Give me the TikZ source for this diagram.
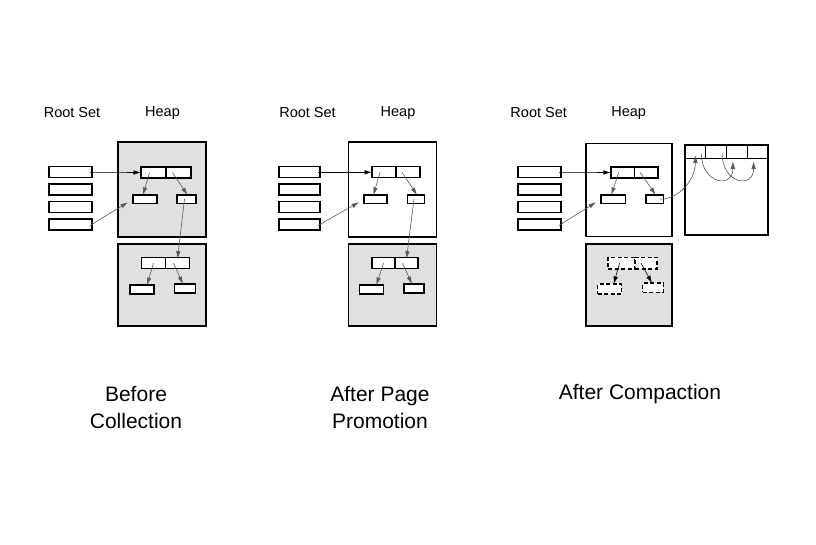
\documentclass[tikz,border=0pt]{standalone}
\usepackage{fontspec}
\setmainfont{Liberation Sans}
\usetikzlibrary{arrows.meta}

\definecolor{pagegray}{gray}{0.88}
\colorlet{ptrgray}{black!65}

\begin{document}
\begin{tikzpicture}[>={Latex[length=7.5pt,width=4.5pt]},x=1pt,y=-1pt,
  lbl/.style={font=\fontsize{14.5}{17}\selectfont},
  captxt/.style={font=\fontsize{21}{27}\selectfont,align=center},
  obj/.style={draw,fill=white,line width=1.2pt,inner sep=0pt,outer sep=0pt,minimum height=11},
  kid/.style={obj,minimum height=8.5},
  gone/.style={draw,fill=white,line width=1.4pt,dash pattern=on 4pt off 2.5pt,inner sep=0pt,outer sep=0pt},
  page/.style={draw,line width=1.2pt,inner sep=0pt,outer sep=0pt,minimum width=88,minimum height=95},
  ptr/.style={->,semithick,ptrgray}]
  \useasboundingbox (0,0) rectangle (816,544);
  % Before collection
  \begin{scope}
    \node[lbl] (rs) at (72,113) {Root Set};
    \node[lbl] (hp) at (162.5,113) {Heap};
    \foreach \i/\y in {1/172.3,2/189.5,3/207,4/224.5}
      \node[obj,minimum width=43] (r\i) at (70.5,\y) {};
    \node[page,fill=pagegray] (ha) at (162,189.5) {};
    \node[page,fill=pagegray,minimum height=82] (hb) at (162,285) {};
    \node[obj,minimum width=25] (pl) at (153.5,172.5) {};
    \node[obj,minimum width=25] (pr) at (178.5,172.5) {};
    \node[kid,minimum width=24] (cl) at (145,199.2) {};
    \node[kid,minimum width=19] (cr) at (186.5,199.2) {};
    \node[obj,minimum width=24] (ql) at (153.5,263.2) {};
    \node[obj,minimum width=24] (qr) at (177.5,263.2) {};
    \node[kid,minimum width=24,minimum height=9] (dl) at (142,289.5) {};
    \node[kid,minimum width=21,minimum height=9] (dr) at (185,288.5) {};
    \draw[->,semithick] ([xshift=-2]r1.east) -- (pl.west);
    \draw[ptr] ([shift={(-2,1)}]r4.east) -- ([shift={(-5,3)}]cl.west);
    \draw[ptr] ([xshift=-4]pl.center) -- ([xshift=-2]cl.north);
    \draw[ptr] ([xshift=-6]pr.center) -- ([xshift=1]cr.north);
    \draw[ptr] ([xshift=-2]cr.center) -- ([yshift=-1]qr.north);
    \draw[ptr] (ql.center) -- ([xshift=5]dl.north);
    \draw[ptr] ([xshift=-4]qr.center) -- ([xshift=-2]dr.north);
    \node[captxt] (t1) at (136,407.5) {Before\\Collection};
  \end{scope}
  % After page promotion
  \begin{scope}[xshift=230]
    \node[lbl] (rs) at (77.5,113) {Root Set};
    \node[lbl] (hp) at (168,113) {Heap};
    \foreach \i/\y in {1/172.3,2/189.5,3/207,4/224.5}
      \node[obj,minimum width=41] (r\i) at (69.5,\y) {};
    \node[page,fill=white] (ha) at (162.5,189.5) {};
    \node[page,fill=pagegray,minimum height=82] (hb) at (162.5,285) {};
    \node[obj,minimum width=24] (pl) at (154,172.3) {};
    \node[obj,minimum width=24] (pr) at (178,172.3) {};
    \node[kid,minimum width=23] (cl) at (145.5,199.2) {};
    \node[kid,minimum width=17] (cr) at (186,199.2) {};
    \node[obj,minimum width=23] (ql) at (153.5,263.3) {};
    \node[obj,minimum width=23] (qr) at (176.5,263.3) {};
    \node[kid,minimum width=24,minimum height=9] (dl) at (141.3,289.5) {};
    \node[kid,minimum width=20,minimum height=9] (dr) at (184,288.5) {};
    \draw[->,semithick] ([xshift=-2]r1.east) -- (pl.west);
    \draw[ptr] ([shift={(-2,1)}]r4.east) -- ([shift={(-5,3)}]cl.west);
    \draw[ptr] ([xshift=-4]pl.center) -- ([xshift=-2]cl.north);
    \draw[ptr] ([xshift=-6]pr.center) -- ([xshift=1]cr.north);
    \draw[ptr] ([xshift=-2]cr.center) -- ([yshift=-1]qr.north);
    \draw[ptr] (ql.center) -- ([xshift=5]dl.north);
    \draw[ptr] ([xshift=-4]qr.center) -- ([xshift=-2]dr.north);
    \node[captxt] (t2) at (150,407.5) {After Page\\Promotion};
  \end{scope}
  % After compaction
  \begin{scope}[xshift=469]
    \node[lbl] (rs) at (69.7,113) {Root Set};
    \node[lbl] (hp) at (159.7,113) {Heap};
    \foreach \i/\y in {1/172.3,2/189.5,3/207,4/224.5}
      \node[obj,minimum width=43] (r\i) at (70.5,\y) {};
    \node[page,fill=white,minimum width=86,minimum height=93] (ha) at (160,190) {};
    \node[page,fill=pagegray,minimum width=86,minimum height=82] (hb) at (160,285) {};
    \node[obj,minimum width=23.5] (pl) at (153.7,172.5) {};
    \node[obj,minimum width=23.5] (pr) at (177.2,172.5) {};
    \node[kid,minimum width=24.5] (cl) at (144.3,199.2) {};
    \node[kid,minimum width=17.5] (cr) at (185.7,199.2) {};
    \node[gone,minimum width=27,minimum height=11.5] (ql) at (152.5,263.2) {};
    \node[gone,minimum width=22,minimum height=11.5] (qr) at (177,263.2) {};
    \node[gone,minimum width=24,minimum height=10] (dl) at (140.7,289) {};
    \node[gone,minimum width=20.5,minimum height=9.3] (dr) at (184,287.7) {};
    % to-space page
    \node[page,fill=white,minimum width=83,minimum height=90] (tosp) at (257.5,190) {};
    \foreach \i in {1,...,4}
      \node[obj,minimum width=20.75,minimum height=13.3,anchor=north west] (c\i) at (216+20.75*\i-20.75,145) {};
    \draw[->,semithick] ([xshift=-2]r1.east) -- (pl.west);
    \draw[ptr] ([shift={(-2,1)}]r4.east) -- ([shift={(-5,3)}]cl.west);
    \draw[ptr] ([xshift=-4]pl.center) -- ([xshift=-2]cl.north);
    \draw[ptr] ([xshift=-6]pr.center) -- ([xshift=1]cr.north);
    \draw[ptr] ([xshift=-3]cr.east) .. controls +(18,0) and +(0,25) .. ([yshift=3]c1.south);
    \draw[ptr] ([shift={(6,2)}]c1.center) .. controls +(0,30) and +(0,28) .. ([shift={(-4,3)}]c3.south);
    \draw[ptr] ([shift={(6,2)}]c2.center) .. controls +(0,30) and +(0,28) .. ([shift={(-4,3)}]c4.south);
    \draw[->,semithick] ([xshift=-2]ql.center) -- ([xshift=4]dl.north);
    \draw[->,semithick] ([xshift=-5]qr.center) -- ([xshift=-1]dr.north);
    \node[captxt] (t3) at (171,394) {After Compaction};
  \end{scope}
\end{tikzpicture}
\end{document}
